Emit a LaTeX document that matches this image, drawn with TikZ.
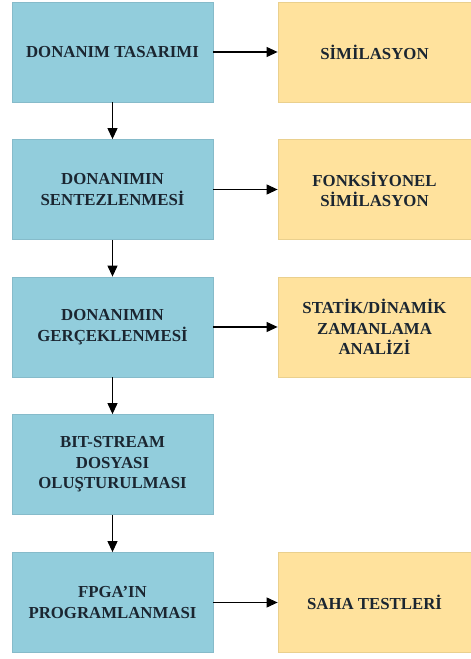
\documentclass[tikz,border=0pt]{standalone}
\usepackage{fontspec}
\newfontfamily\labelfont{Liberation Serif}[BoldFont={Liberation Serif Bold}]
\usetikzlibrary{arrows.meta}
\definecolor{stepblue}{HTML}{92CDDC}
\definecolor{stepblueline}{HTML}{86BBCA}
\definecolor{checkyellow}{HTML}{FFE29D}
\definecolor{checkyellowline}{HTML}{EAD08E}
\definecolor{labelink}{HTML}{1B2631}
\begin{document}
\begin{tikzpicture}[x=1pt,y=1pt,
  boxtext/.style={font=\labelfont\fontsize{16.8}{20.5}\selectfont\bfseries, text=labelink, align=center, inner sep=0pt},
  flowbox/.style={boxtext, rectangle, fill=stepblue, draw=stepblueline, line width=0.8pt,
    minimum width=201pt, minimum height=100pt},
  checkbox/.style={boxtext, rectangle, fill=checkyellow, draw=checkyellowline, line width=0.8pt,
    minimum width=193pt, minimum height=100pt},
  flowarrow/.style={line width=1.1pt, -{Triangle[length=11pt,width=10pt]}}]
\useasboundingbox (0,0) rectangle (471,659);
\fill[white] (0,0) rectangle (471,659);

% design flow (left column)
\node[flowbox] (tasarim)  at (112.5,607)   {DONANIM TASARIMI};
\node[flowbox] (sentez)   at (112.5,469.5) {DONANIMIN\\SENTEZLENMESİ};
\node[flowbox] (gercek)   at (112.5,332)   {DONANIMIN\\GERÇEKLENMESİ};
\node[flowbox] (bitstream) at (112.5,194.5) {BIT-STREAM\\DOSYASI\\OLUŞTURULMASI};
\node[flowbox] (program)  at (112.5,56.5)  {FPGA’IN\\PROGRAMLANMASI};

% verification steps (right column)
\node[checkbox] (sim)     at (374.5,607)   {SİMİLASYON};
\node[checkbox] (fonk)    at (374.5,469.5) {FONKSİYONEL\\SİMİLASYON};
\node[checkbox] (zaman)   at (374.5,332)   {STATİK/DİNAMİK\\ZAMANLAMA\\ANALİZİ};
\node[checkbox] (saha)    at (374.5,56.5)  {SAHA TESTLERİ};

% vertical flow
\draw[flowarrow] (tasarim) -- (sentez);
\draw[flowarrow] (sentez) -- (gercek);
\draw[flowarrow] (gercek) -- (bitstream);
\draw[flowarrow] (bitstream) -- (program);

% horizontal links
\draw[flowarrow] (tasarim) -- (sim);
\draw[flowarrow] (sentez) -- (fonk);
\draw[flowarrow] (gercek) -- (zaman);
\draw[flowarrow] (program) -- (saha);
\end{tikzpicture}
\end{document}
